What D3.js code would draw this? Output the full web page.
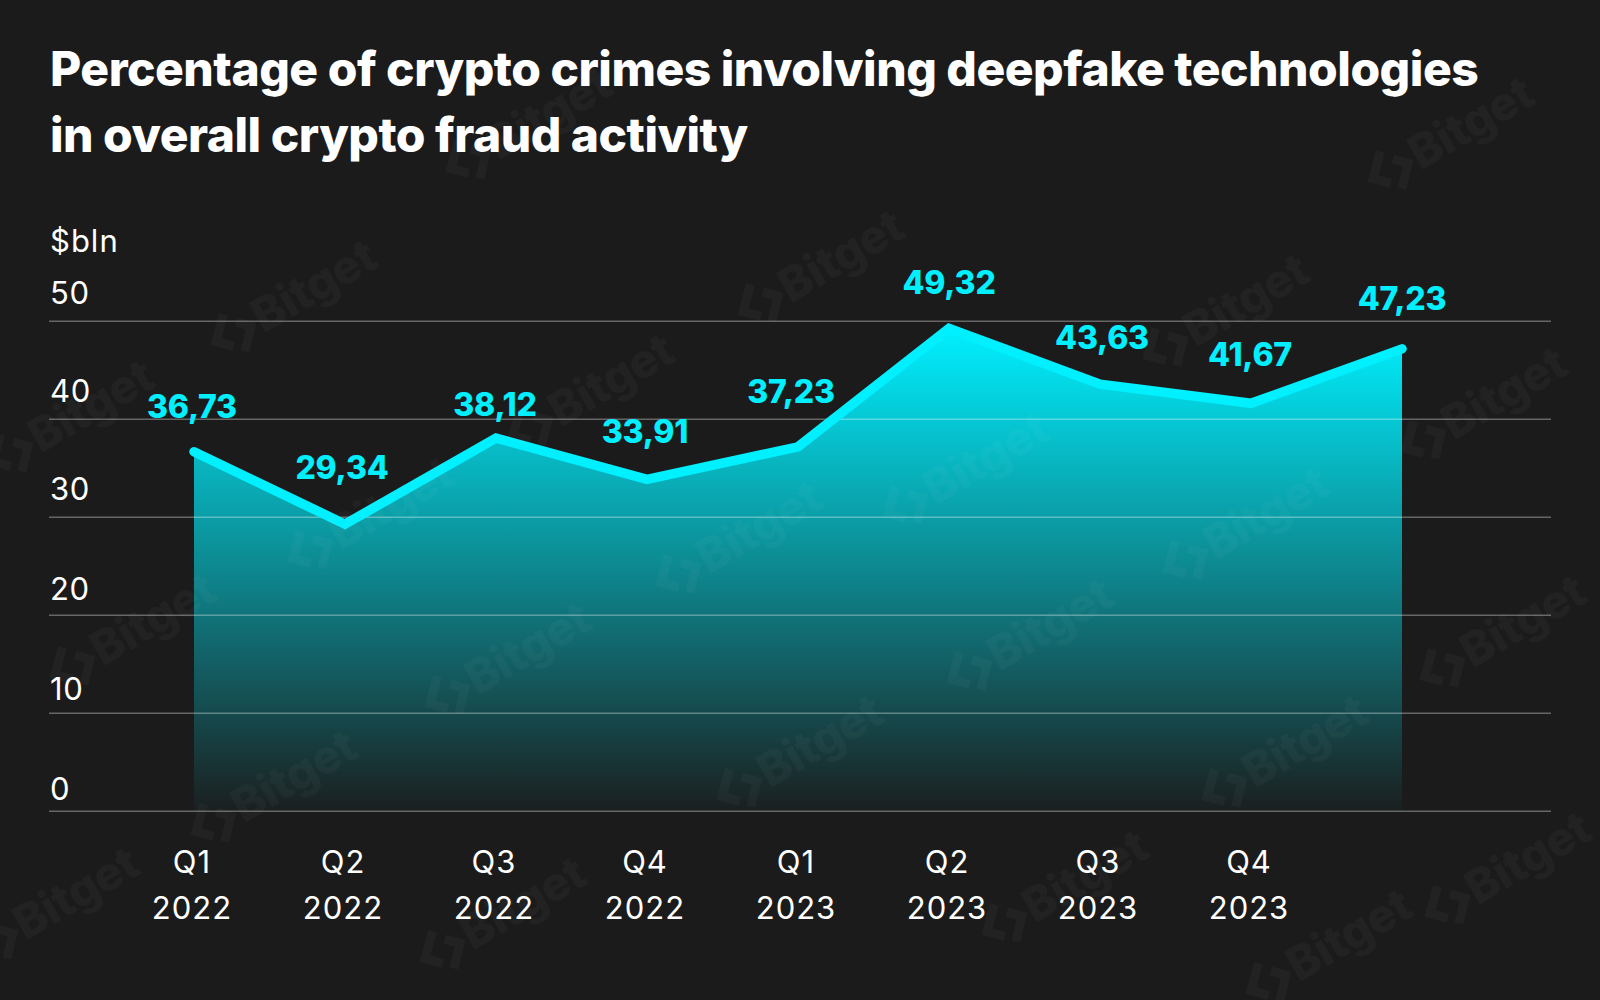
<!DOCTYPE html>
<html><head><meta charset="utf-8">
<script src="https://cdn.jsdelivr.net/npm/d3@7"></script>
<style>
html,body{margin:0;padding:0;background:#1b1b1b}
svg{display:block}
text{font-family:Inter,"Noto Sans",sans-serif}
</style></head><body>
<script>
const titleLines = ["Percentage of crypto crimes involving deepfake technologies","in overall crypto fraud activity"];
const unitLabel = "$bln";
const quarters = ["Q1","Q2","Q3","Q4","Q1","Q2","Q3","Q4",""];
const years = ["2022","2022","2022","2022","2023","2023","2023","2023",""];
const slots = d3.range(quarters.length);
const values = [36.73,29.34,38.12,33.91,37.23,49.32,43.63,41.67,47.23];
const valueLabels = ["36,73","29,34","38,12","33,91","37,23","49,32","43,63","41,67","47,23"];
const yTicks = [0,10,20,30,40,50];

// layout nudges, separate from the data
const labelDx = [-2,-3,-1,-2,-7,0,2,-1,0];
const labelLift = [33,44.5,21,35,42.5,33,34.5,36.5,37.5];
const tickLift = {0:11,10:13,20:15,30:17,40:17,50:17};
const watermarkAnchors = [[468,160],[1390,170],[233,333],[760,303],[530,427],[1165,347],[1423,440],[10,453],
  [310,550],[678,574],[905,505],[1185,560],[72,666],[447,695],[969,671],[1442,668],[213,823],[739,788],[1224,788],
  [-5,940],[442,950],[1004,923],[1447,905],[1268,982]];

const W=1600,H=1000;
const svg=d3.select("body").append("svg").attr("width",W).attr("height",H).attr("viewBox",`0 0 ${W} ${H}`);
svg.append("rect").attr("width",W).attr("height",H).attr("fill","#1b1b1b");

const x=d3.scalePoint().domain(slots).range([194,1402]);
const y=d3.scaleLinear().domain([0,50]).range([810.7,320.7]);

const defs=svg.append("defs");
const grad=defs.append("linearGradient").attr("id","fade").attr("gradientUnits","userSpaceOnUse")
  .attr("x1",0).attr("x2",0).attr("y1",y(49.32)).attr("y2",y(0));
grad.append("stop").attr("offset",0).attr("stop-color","#00f0ff").attr("stop-opacity",1);
grad.append("stop").attr("offset",1).attr("stop-color","#00f0ff").attr("stop-opacity",0.02);

// title
svg.append("g").selectAll("text").data(titleLines).join("text")
  .attr("x",50).attr("y",(d,i)=>86+i*66)
  .attr("fill","#fff").attr("font-size",48).attr("font-weight",800).attr("letter-spacing",-0.5)
  .text(d=>d);

svg.append("text").attr("x",50).attr("y",252).attr("fill","#fff").attr("font-size",31).attr("letter-spacing",1).text(unitLabel);

// area
const area=d3.area().x((d,i)=>x(i)).y0(y(0)).y1(d=>y(d)+1);
svg.append("path").datum(values).attr("d",area).attr("fill","url(#fade)");

// y axis and gridlines
const axis=d3.axisLeft(y).tickValues(yTicks).tickSize(1502).tickFormat(d3.format("d"));
const gAxis=svg.append("g").attr("transform","translate(1551,0)").call(axis);
gAxis.select(".domain").remove();
gAxis.selectAll(".tick line").attr("stroke","#fff").attr("stroke-opacity",0.33).attr("stroke-width",1.6);
gAxis.selectAll(".tick text")
  .attr("x",-1501).attr("dy",null).attr("y",d=>-tickLift[d])
  .attr("text-anchor","start").attr("fill","#fff").attr("font-size",31).attr("letter-spacing",0.6)
  .attr("font-family","Inter,'Noto Sans',sans-serif");

// line
const line=d3.line().x((d,i)=>x(i)).y(d=>y(d)+1);
svg.append("path").datum(values).attr("d",line).attr("fill","none")
  .attr("stroke","#00f0ff").attr("stroke-width",9.5).attr("stroke-linecap","round").attr("stroke-linejoin","miter");

// value labels
svg.append("g").selectAll("text").data(values).join("text")
  .attr("x",(d,i)=>x(i)+labelDx[i]).attr("y",(d,i)=>y(d)-labelLift[i])
  .attr("text-anchor","middle").attr("fill","#00f0ff").attr("font-size",32).attr("font-weight",800).attr("letter-spacing",-0.2)
  .text((d,i)=>valueLabels[i]);

// x labels
const xg=svg.append("g").selectAll("g").data(slots.filter(i=>quarters[i])).join("g");
xg.append("text").attr("x",i=>x(i)-2).attr("y",873).attr("text-anchor","middle").attr("fill","#fff").attr("font-size",31).attr("letter-spacing",1).text(i=>quarters[i]);
xg.append("text").attr("x",i=>x(i)-2).attr("y",919).attr("text-anchor","middle").attr("fill","#fff").attr("font-size",31).attr("letter-spacing",1).text(i=>years[i]);

// watermark
const wm=svg.append("g").attr("fill","#fff").attr("opacity",0.035).selectAll("g").data(watermarkAnchors).join("g")
  .attr("transform",d=>`translate(${d[0]},${d[1]}) rotate(-30)`);
wm.append("path").attr("fill","none").attr("stroke","#fff").attr("stroke-width",9).attr("stroke-linejoin","miter")
  .attr("d","M1,-21 L-19,-1 L-6,12 M8,-8 L19,3 L1,22");
wm.append("text").attr("x",26).attr("y",16).attr("font-size",47).attr("font-weight",800).attr("letter-spacing",-0.5).text("Bitget");
</script>
</body></html>
